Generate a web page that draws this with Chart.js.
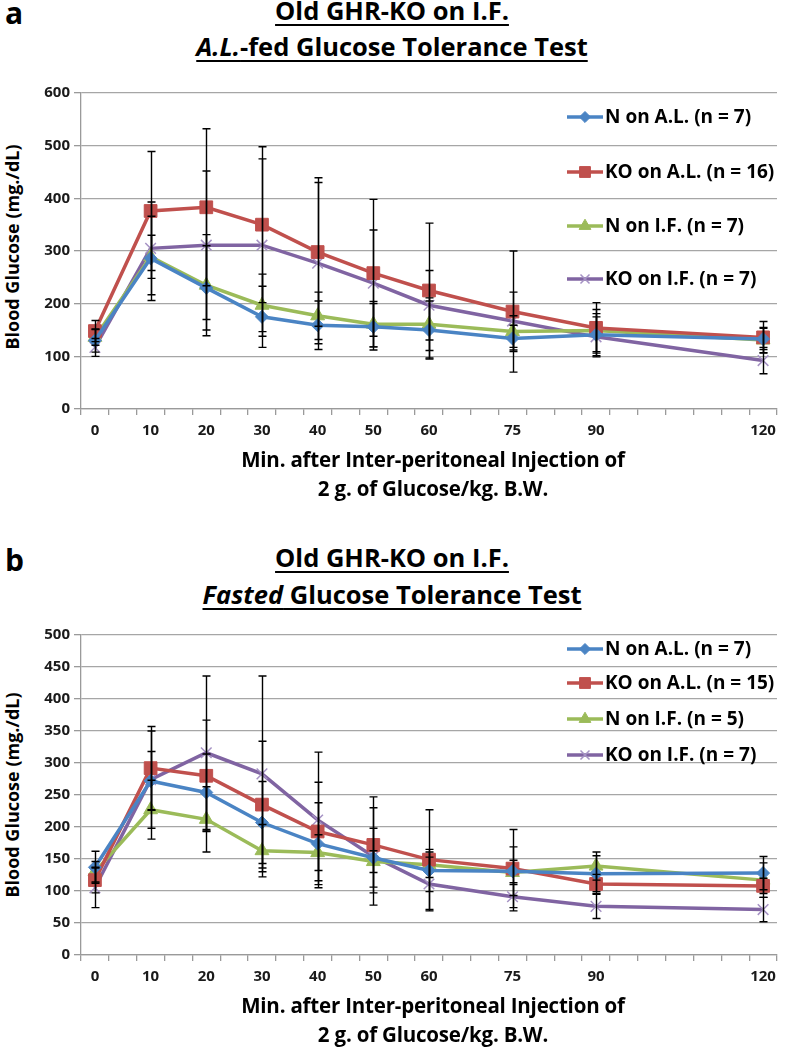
<!DOCTYPE html>
<html>
<head>
<meta charset="utf-8">
<script src="https://cdn.jsdelivr.net/npm/chart.js@4.4.1/dist/chart.umd.min.js"></script>
<style>
  body { margin: 0; background: #fff; }
  #page { position: relative; width: 787px; height: 1050px; overflow: hidden;
          font-family: 'Open Sans', Lato, sans-serif; font-weight: bold; color: #000; }
  .letter { position: absolute; left: 5px; font-size: 30px; line-height: 30px; }
  .title { position: absolute; left: 0; width: 784px; text-align: center;
           font-size: 25.5px; line-height: 25px; white-space: nowrap; }
  .title span { text-decoration: underline; text-decoration-thickness: 2px; text-underline-offset: 4px; }
  .xtitle { position: absolute; left: 0; width: 866px; text-align: center;
            font-size: 20.5px; line-height: 20px; white-space: nowrap; letter-spacing: -0.2px; }
  .ytitle { position: absolute; left: -138px; width: 300px; text-align: center;
            font-size: 18px; line-height: 20px; white-space: nowrap; transform: rotate(-90deg); }
  canvas { position: absolute; left: 0; }
</style>
</head>
<body>
<div id="page">
  <div class="letter" style="top:-2px">a</div>
  <div class="title" style="top:-2px"><span>Old GHR-KO on I.F.</span></div>
  <div class="title" style="top:34px"><span><i>A.L.</i>-fed Glucose Tolerance Test</span></div>
  <div class="ytitle" style="top:237px">Blood Glucose (mg./dL)</div>
  <canvas id="chartA" width="787" height="370" style="top:80px"></canvas>
  <div class="xtitle" style="top:449px">Min. after Inter-peritoneal Injection of</div>
  <div class="xtitle" style="top:478px">2 g. of Glucose/kg. B.W.</div>

  <div class="letter" style="top:545px">b</div>
  <div class="title" style="top:545px"><span>Old GHR-KO on I.F.</span></div>
  <div class="title" style="top:582px"><span><i>Fasted</i> Glucose Tolerance Test</span></div>
  <div class="ytitle" style="top:785px">Blood Glucose (mg./dL)</div>
  <canvas id="chartB" width="787" height="380" style="top:620px"></canvas>
  <div class="xtitle" style="top:995px">Min. after Inter-peritoneal Injection of</div>
  <div class="xtitle" style="top:1024px">2 g. of Glucose/kg. B.W.</div>
</div>

<script>
// Minutes after injection
const times = [0, 10, 20, 30, 40, 50, 60, 75, 90, 120];

// Panel a - A.L.-fed
const labelsA = ['N on A.L. (n = 7)', 'KO on A.L. (n = 16)', 'N on I.F. (n = 7)', 'KO on I.F. (n = 7)'];
const nAL_a  = [130, 286, 230, 175, 159, 156, 150, 134, 141, 133];
const koAL_a = [148, 376, 383, 350, 298, 258, 225, 185, 154, 136];
const nIF_a  = [136, 289, 235, 197, 177, 161, 161, 147, 149, 131];
const koIF_a = [117, 305, 311, 311, 277, 239, 197, 167, 137, 92];
const nAL_a_err  = [22, 80, 80, 58, 46, 44, 55, 25, 40, 20];
const koAL_a_err = [20, 113, 149, 148, 141, 140, 128, 115, 48, 30];
const nIF_a_err  = [15, 41, 96, 59, 45, 43, 50, 30, 40, 24];
const koIF_a_err = [17, 88, 141, 164, 153, 101, 66, 55, 38, 25];

// Panel b - Fasted
const labelsB = ['N on A.L. (n = 7)', 'KO on A.L. (n = 15)', 'N on I.F. (n = 5)', 'KO on I.F. (n = 7)'];
const nAL_b  = [137, 272, 254, 207, 174, 152, 132, 131, 127, 128];
const koAL_b = [117, 292, 280, 235, 193, 172, 149, 135, 111, 108];
const nIF_b  = [130, 227, 212, 163, 160, 146, 141, 129, 139, 117];
const koIF_b = [105, 274, 316, 283, 211, 154, 111, 91, 76, 71];
const nAL_b_err  = [25, 46, 60, 64, 64, 46, 33, 38, 28, 26];
const koAL_b_err = [20, 65, 87, 99, 77, 75, 78, 61, 15, 12];
const nIF_b_err  = [16, 46, 51, 41, 28, 17, 20, 19, 22, 27];
const koIF_b_err = [31, 76, 120, 153, 106, 76, 42, 22, 19, 19];

const yTicksA = { max: 600, step: 100 };
const yTicksB = { max: 500, step: 50 };

// Excel 2007 style series colours
const seriesStyle = [
  { color: '#4a84c4', point: 'rectRot', radius: 6.5, pointBorder: '#4a84c4', pointWidth: 1 },
  { color: '#c0504d', point: 'rect', radius: 9, pointBorder: '#c0504d', pointWidth: 1 },
  { color: '#9bbb59', point: 'triangle', radius: 8, pointBorder: '#9bbb59', pointWidth: 1 },
  { color: '#8064a2', point: 'crossRot', radius: 7.5, pointBorder: '#a592c4', pointWidth: 1.5 }
];

const FONT = "'Open Sans', Lato, sans-serif";
Chart.defaults.font.family = FONT;
Chart.defaults.font.weight = 'bold';
Chart.defaults.color = '#1a1a1a';

// error bars drawn from the dataset's errors array
const errorBars = {
  id: 'errorBars',
  afterDatasetsDraw(chart) {
    const ctx = chart.ctx;
    const x = chart.scales.x, y = chart.scales.y;
    ctx.save();
    ctx.strokeStyle = '#000';
    ctx.lineWidth = 1.4;
    chart.data.datasets.forEach(ds => {
      ds.data.forEach((pt, i) => {
        const e = ds.errors[i];
        const px = Math.round(x.getPixelForValue(pt.x)) + 0.5;
        const top = y.getPixelForValue(pt.y + e);
        const bot = y.getPixelForValue(pt.y - e);
        ctx.beginPath();
        ctx.moveTo(px, top); ctx.lineTo(px, bot);
        ctx.moveTo(px - 4, top); ctx.lineTo(px + 4, top);
        ctx.moveTo(px - 4, bot); ctx.lineTo(px + 4, bot);
        ctx.stroke();
      });
    });
    ctx.restore();
  }
};

// legend inside the plot, Excel style (line + marker + text)
const boxLegend = {
  id: 'boxLegend',
  afterDraw(chart, args, opts) {
    const ctx = chart.ctx;
    const top = chart.chartArea.top;
    ctx.save();
    chart.data.datasets.forEach((ds, i) => {
      const yy = top + opts.rows[i];
      ctx.strokeStyle = ds.borderColor;
      ctx.lineWidth = 3.5;
      ctx.beginPath();
      ctx.moveTo(opts.x0, yy); ctx.lineTo(opts.x1, yy);
      ctx.stroke();
      ctx.fillStyle = ds.pointBackgroundColor;
      ctx.strokeStyle = ds.pointBorderColor;
      ctx.lineWidth = ds.pointBorderWidth;
      const mid = (opts.x0 + opts.x1) / 2;
      if (Chart.helpers && Chart.helpers.drawPoint) {
        Chart.helpers.drawPoint(ctx, {
          pointStyle: ds.pointStyle, rotation: 0,
          radius: ds.pointRadius * 0.85, borderWidth: ds.pointBorderWidth
        }, mid, yy);
      }
      ctx.fillStyle = '#000';
      ctx.font = 'bold 19px ' + FONT;
      ctx.textBaseline = 'middle';
      ctx.textAlign = 'left';
      ctx.fillText(ds.label, opts.textX, yy + 1);
    });
    ctx.restore();
  }
};

function makeDatasets(labels, series, errs) {
  return series.map((vals, i) => {
    const s = seriesStyle[i];
    return {
      label: labels[i],
      data: times.map((t, j) => ({ x: t, y: vals[j] })),
      errors: errs[i],
      borderColor: s.color,
      backgroundColor: s.color,
      borderWidth: 3.5,
      tension: 0,
      pointStyle: s.point,
      pointRadius: s.radius,
      pointBackgroundColor: s.color,
      pointBorderColor: s.pointBorder,
      pointBorderWidth: s.pointWidth
    };
  });
}

// tick marks every 5 min across the axis, labels only at sample times
const xMarks = [];
for (let k = 0; k <= 25; k++) xMarks.push(-2.5 + 5 * k);
const xTickVals = xMarks.concat(times).sort((a, b) => a - b);

function makeChart(id, labels, series, errs, yt, padTop, xHeight, legendRows) {
  return new Chart(document.getElementById(id), {
    type: 'line',
    data: { datasets: makeDatasets(labels, series, errs) },
    options: {
      responsive: false,
      animation: false,
      layout: { padding: { top: padTop, right: 1, left: 0, bottom: 0 } },
      plugins: {
        legend: { display: false },
        tooltip: { enabled: false },
        boxLegend: { rows: legendRows, x0: 567, x1: 603, textX: 605 }
      },
      scales: {
        x: {
          type: 'linear',
          min: -2.5,
          max: 122.5,
          afterBuildTicks: scale => { scale.ticks = xTickVals.map(v => ({ value: v })); },
          afterFit: scale => { scale.height = xHeight; },
          ticks: {
            autoSkip: false,
            maxRotation: 0,
            padding: 7,
            font: { size: 15, weight: 'bold' },
            callback: v => times.includes(v) ? String(v) : ''
          },
          grid: {
            drawOnChartArea: false,
            tickLength: 6,
            lineWidth: 1.3,
            tickColor: c => (c.tick && times.includes(c.tick.value)) ? 'rgba(0,0,0,0)' : '#9a9a9a'
          },
          border: { color: '#9a9a9a', width: 1.3 }
        },
        y: {
          min: 0,
          max: yt.max,
          afterFit: scale => { scale.width = 81; },
          ticks: { stepSize: yt.step, padding: 4, font: { size: 15, weight: 'bold' } },
          grid: { color: '#a6a6a6', lineWidth: 1.3, tickLength: 7, tickColor: '#9a9a9a' },
          border: { color: '#9a9a9a', width: 1.3 }
        }
      }
    },
    plugins: [errorBars, boxLegend]
  });
}

makeChart('chartA', labelsA,
  [nAL_a, koAL_a, nIF_a, koIF_a],
  [nAL_a_err, koAL_a_err, nIF_a_err, koIF_a_err],
  yTicksA, 9, 41, [24, 79, 133, 186]);

makeChart('chartB', labelsB,
  [nAL_b, koAL_b, nIF_b, koIF_b],
  [nAL_b_err, koAL_b_err, nIF_b_err, koIF_b_err],
  yTicksB, 15, 45, [14, 48, 84, 120]);
</script>
</body>
</html>
